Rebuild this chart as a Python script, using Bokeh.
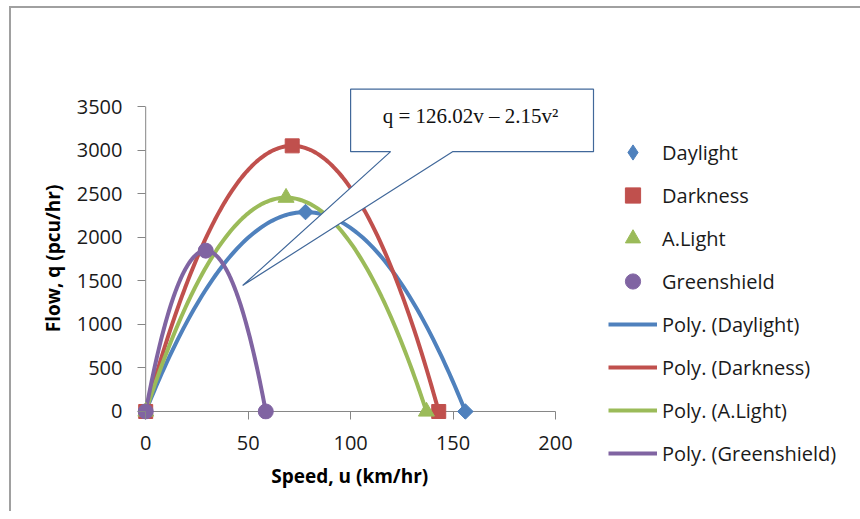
import numpy as np
from bokeh.plotting import figure
from bokeh.models import (Range1d, FixedTicker, Legend, LegendItem,
                          PolyAnnotation, Label)
from bokeh.embed import file_html
from bokeh.resources import INLINE

# ---------------- data ----------------
daylight_speed = [0, 78, 156]
daylight_flow = [0, 2290, 0]
darkness_speed = [0, 71.5, 143]
darkness_flow = [0, 3050, 0]
alight_speed = [0, 68.5, 137]
alight_flow = [0, 2455, 0]
green_speed = [0, 29.3, 58.6]
green_flow = [0, 1847, 0]

x_ticks = [0, 50, 100, 150, 200]
y_ticks = [0, 500, 1000, 1500, 2000, 2500, 3000, 3500]

series_names = ["Daylight", "Darkness", "A.Light", "Greenshield"]
colors = ["#4F81BD", "#C0504D", "#9BBB59", "#8064A2"]
equation = "q = 126.02v \u2013 2.15v\u00b2"
x_title = "Speed, u (km/hr)"
y_title = "Flow, q (pcu/hr)"

FONT = "Open Sans"
AXIS_GRAY = "#868686"
NBSP = "\u00a0"

chart_border = {
    "background-color": "white",
    "background-image": "linear-gradient(#a0a0a0,#a0a0a0), linear-gradient(#a0a0a0,#a0a0a0)",
    "background-size": "2px 100%, 100% 2px",
    "background-position": "9px 6px, 9px 6px",
    "background-repeat": "no-repeat",
}

p = figure(frame_width=459, frame_height=332,
           min_border_left=137, min_border_right=256,
           min_border_top=87, min_border_bottom=92,
           x_range=Range1d(-4, 220), y_range=Range1d(-92, 3720),
           output_backend="svg", toolbar_location=None,
           background_fill_color="white", border_fill_alpha=0,
           styles=chart_border)
p.outline_line_color = None
p.grid.visible = False

p.xaxis.ticker = FixedTicker(ticks=x_ticks)
p.yaxis.ticker = FixedTicker(ticks=y_ticks)
for ax in (p.xaxis[0], p.yaxis[0]):
    ax.axis_line_color = None
    ax.major_tick_line_color = AXIS_GRAY
    ax.minor_tick_line_color = None
    ax.major_tick_out = 0
    ax.major_label_text_font = FONT
    ax.major_label_text_font_size = "20px"
    ax.major_label_text_color = "#1a1a1a"
    ax.axis_label_text_font = FONT
    ax.axis_label_text_font_size = "19px"
    ax.axis_label_text_font_style = "bold"
    ax.axis_label_text_color = "#000000"
p.xaxis.major_tick_in = 8
p.yaxis.major_tick_in = 8
p.xaxis.major_label_standoff = 16
p.yaxis.major_label_standoff = 15
p.yaxis.axis_label = y_title + NBSP * 2
p.yaxis.axis_label_standoff = 8
p.xaxis.axis_label = x_title + NBSP * 7
p.xaxis.axis_label_standoff = 10

# axis lines through the origin
p.segment(x0=[x_ticks[0]], y0=[0], x1=[x_ticks[-1]], y1=[0],
          line_color=AXIS_GRAY, line_width=1)
p.segment(x0=[0], y0=[y_ticks[0]], x1=[0], y1=[y_ticks[-1]],
          line_color=AXIS_GRAY, line_width=1)

speeds = [daylight_speed, darkness_speed, alight_speed, green_speed]
flows = [daylight_flow, darkness_flow, alight_flow, green_flow]
markers = [("square", 11, np.pi / 4), ("square", 14, 0), ("triangle", 16, 0), ("circle", 15, 0)]
legend_markers = ["diamond", "square", "triangle", "circle"]

point_renderers = []
line_renderers = []
for sx, fy, c in zip(speeds, flows, colors):
    coef = np.polyfit(sx, fy, 2)
    xs = np.linspace(min(sx), max(sx), 120)
    ys = np.polyval(coef, xs)
    line_renderers.append(p.line(xs, ys, line_width=4, color=c))
for sx, fy, c, (m, s, a) in zip(speeds, flows, colors, markers):
    point_renderers.append(p.scatter(sx, fy, marker=m, size=s, angle=a,
                                     fill_color=c, line_color=c))

# legend swatches (the legend draws markers unrotated, so the Daylight
# diamond gets its own empty swatch renderer)
legend_point_renderers = list(point_renderers)
legend_point_renderers[0] = p.scatter(x=[np.nan], y=[np.nan], marker=legend_markers[0],
                                      fill_color=colors[0], line_color=colors[0])

# pixel helpers (reference pixels -> data)
px2x = lambda px: (px - 145) / 2.05
py2y = lambda py: (411 - py) / (305 / 3500)

# callout with the Greenshield equation
cx = [px2x(v) for v in (350, 593, 593, 452, 242, 390, 350)]
cy = [py2y(v) for v in (88.5, 88.5, 151, 151, 285, 151, 151)]
p.add_layout(PolyAnnotation(xs=cx, ys=cy, fill_color="white", fill_alpha=1,
                            line_color="#41689A", line_alpha=1, line_width=1.2))
p.add_layout(Label(x=px2x(470), y=py2y(115), text=equation,
                   text_font="Liberation Serif", text_font_size="21px",
                   text_align="center", text_baseline="middle",
                   text_color="#111111"))

items = [LegendItem(label=n, renderers=[r]) for n, r in zip(series_names, legend_point_renderers)]
items += [LegendItem(label="Poly. (%s)" % n, renderers=[r]) for n, r in zip(series_names, line_renderers)]
legend = Legend(items=items, location=(12, -53),
                glyph_width=49, glyph_height=38, label_height=20,
                label_standoff=5, spacing=5, padding=0, margin=0,
                border_line_color=None, background_fill_alpha=0,
                label_text_font=FONT, label_text_font_size="20px",
                label_text_color="#1a1a1a")
p.add_layout(legend, "right")

open("out.html", "w").write(file_html(p, INLINE))
